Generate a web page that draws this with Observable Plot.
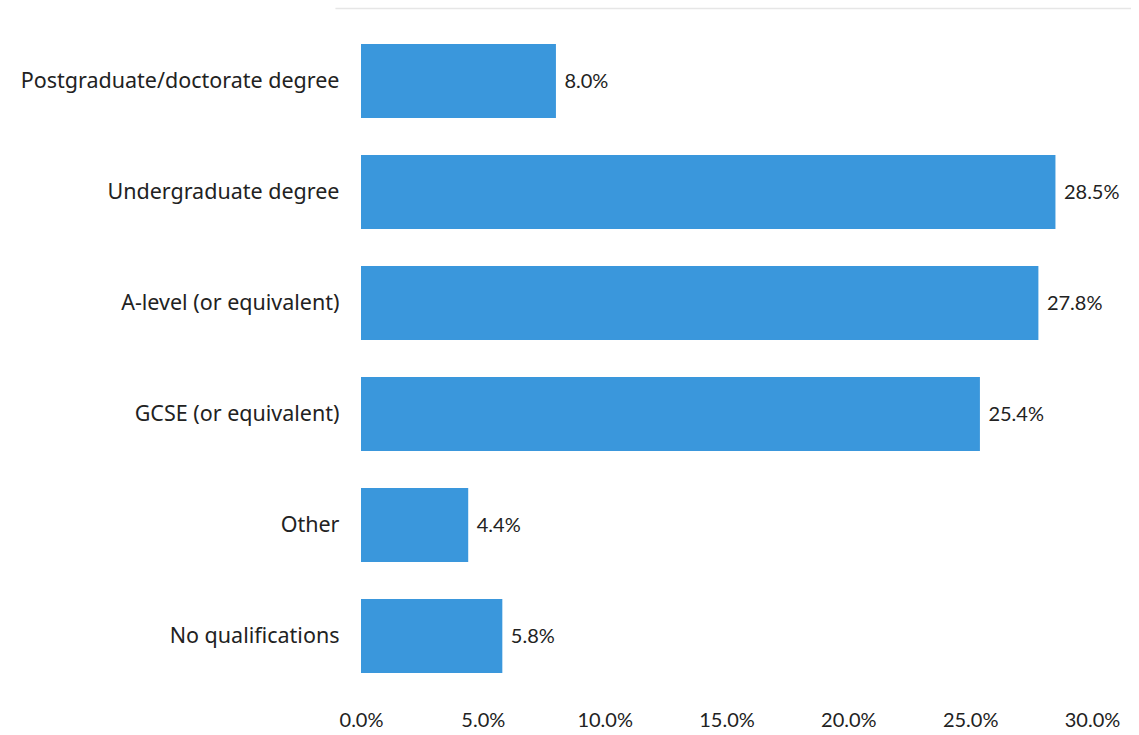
<!DOCTYPE html>
<html>
<head>
<meta charset="utf-8">
<script src="https://cdn.jsdelivr.net/npm/d3@7"></script>
<script src="https://cdn.jsdelivr.net/npm/@observablehq/plot@0.6"></script>
<style>
  html, body { margin: 0; padding: 0; background: #ffffff; }
  #chart svg { display: block; }
</style>
</head>
<body>
<div id="chart"></div>
<script>
const categories = [
  "Postgraduate/doctorate degree",
  "Undergraduate degree",
  "A-level (or equivalent)",
  "GCSE (or equivalent)",
  "Other",
  "No qualifications"
];
const values = [8.0, 28.5, 27.8, 25.4, 4.4, 5.8];
const xTicks = [0, 5, 10, 15, 20, 25, 30];

const data = categories.map((c, i) => ({category: c, value: values[i]}));
const pct = d => d.toFixed(1) + "%";

const plot = Plot.plot({
  width: 1139,
  height: 735,
  marginLeft: 361,
  marginRight: 47,
  marginTop: 5,
  marginBottom: 23,
  style: {background: "#ffffff", fontFamily: "Lato, 'Noto Sans', sans-serif"},
  x: {domain: [0, 30], ticks: xTicks, tickFormat: pct, label: null},
  y: {domain: categories, padding: 0.337, label: null},
  marks: [
    Plot.ruleY([categories[0]], {x1: -1.05, x2: 31.6, dy: -73, stroke: "#e6e6e6", strokeWidth: 1.5}),
    Plot.barX(data, {x: "value", y: "category", fill: "#3a97dc"}),
    Plot.text(data, {x: "value", y: "category", text: d => pct(d.value), textAnchor: "start", dx: 8, fontSize: 20, fill: "#222", fontFamily: "Lato, sans-serif"}),
    Plot.axisY({tickSize: 0, tickPadding: 22, fontSize: 21.5, fontFamily: "'Noto Sans', 'Open Sans', sans-serif", fill: "#222"}),
    Plot.axisX({tickSize: 0, tickPadding: 0, fontSize: 20, tickFormat: pct, fill: "#222", fontFamily: "Lato, sans-serif", anchor: "bottom"})
  ]
});
document.getElementById("chart").appendChild(plot);
</script>
</body>
</html>
